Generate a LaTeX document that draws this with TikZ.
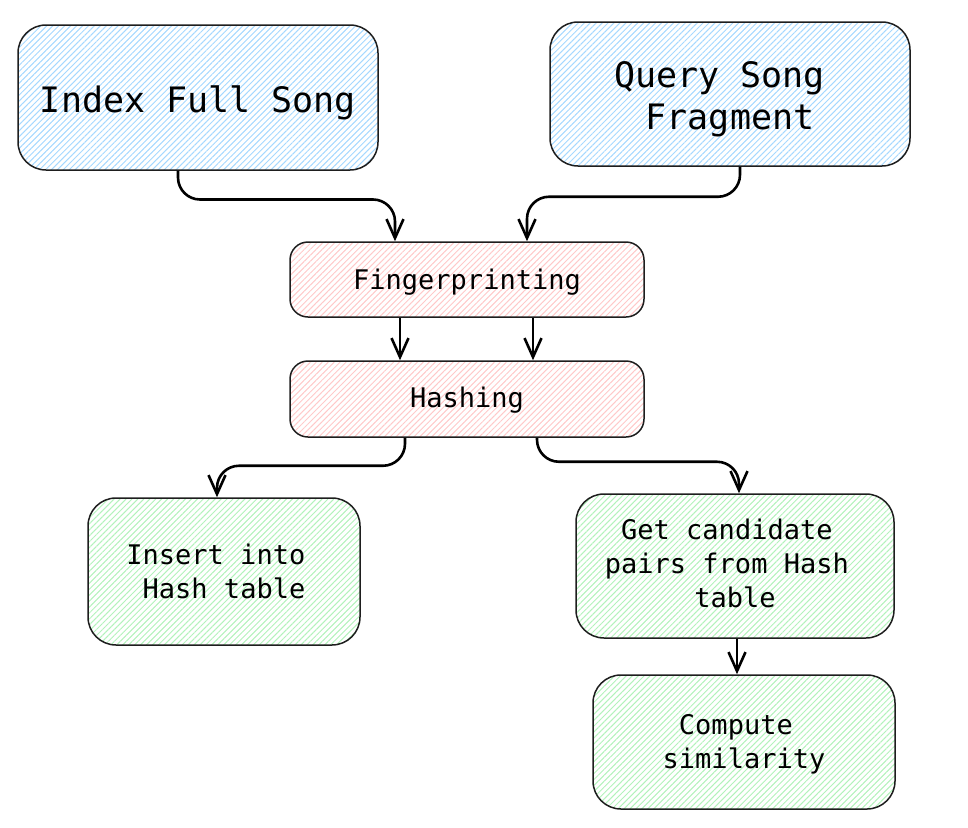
\documentclass[tikz,border=0pt]{standalone}
\usepackage{fontspec}
\setmonofont{DejaVu Sans Mono}
\usetikzlibrary{arrows.meta,patterns.meta}
\definecolor{ink}{HTML}{1E1E1E}
\definecolor{hblue}{HTML}{A5D8FF}
\definecolor{hred}{HTML}{FFC9C9}
\definecolor{hgreen}{HTML}{B2F2BB}
\begin{document}
\begin{tikzpicture}[x=1pt,y=-1pt,
  small/.style={font=\ttfamily\fontsize{27}{34}\selectfont},
  big/.style={font=\ttfamily\fontsize{35}{42}\selectfont},
  base/.style={draw=ink,line width=1.5pt,rectangle,align=center,inner sep=0pt},
  hatch/.style={pattern={Lines[angle=45,distance=4.2pt,line width=1pt]},pattern color=#1},
  txt/.style 2 args={label={[#1,align=center,inner sep=0pt,yshift=-#2]center:{##1}}},
  bluebox/.style={base,hatch=hblue,rounded corners=28pt},
  redbox/.style={base,hatch=hred,rounded corners=18pt},
  greenbox/.style={base,hatch=hgreen,rounded corners=28pt},
  conn/.style={draw=black,line width=2.6pt,rounded corners=22pt,
    -{Straight Barb[length=19pt,width=17pt]}}
]
\useasboundingbox (0,0) rectangle (968,827);
\node[bluebox,minimum width=360pt,minimum height=145pt,
  label={[big,align=center,yshift=-5pt]center:{Index Full Song}}] (idx) at (198,97.5) {};
\node[bluebox,minimum width=360pt,minimum height=144pt,
  label={[big,align=center,yshift=-5pt]center:{Query Song\phantom{x}\\Fragment}}] (qry) at (730,94) {};
\node[redbox,minimum width=354pt,minimum height=75pt,
  label={[small,align=center,yshift=-3pt]center:{Fingerprinting}}] (fp) at (467,279.5) {};
\node[redbox,minimum width=354pt,minimum height=76pt,
  label={[small,align=center,yshift=-1.5pt]center:{Hashing}}] (hash) at (467,399) {};
\node[greenbox,minimum width=272pt,minimum height=147pt,
  label={[small,align=center]center:{Insert into\phantom{x}\\\phantom{x}Hash table\phantom{x}}}] (ins) at (224,571.5) {};
\node[greenbox,minimum width=318pt,minimum height=144pt,
  label={[small,align=center,yshift=2.5pt]center:{Get candidate\phantom{x}\\pairs from Hash\phantom{x}\\table}}] (get) at (735,566) {};
\node[greenbox,minimum width=302pt,minimum height=134pt,
  label={[small,align=center,yshift=-2pt]center:{Compute\phantom{x}\\similarity}}] (cmp) at (744,742) {};

\draw[conn] ([xshift=-20pt]idx.south) -- ++(0,29) -| ([xshift=-72pt]fp.north);
\draw[conn] ([xshift=10pt]qry.south) -- ++(0,30) -| ([xshift=60pt]fp.north);
\draw[conn] ([xshift=-67pt]fp.south) -- ([xshift=-67pt]hash.north);
\draw[conn] ([xshift=66pt]fp.south) -- ([xshift=66pt]hash.north);
\draw[conn] ([xshift=-62pt]hash.south) -- ++(0,28) -| ([xshift=-7pt]ins.north);
\draw[conn] ([xshift=70pt]hash.south) -- ++(0,24) -| ([xshift=4pt]get.north);
\draw[conn] ([xshift=2pt]get.south) -- ([xshift=2pt]get.south |- cmp.north);
\end{tikzpicture}
\end{document}
